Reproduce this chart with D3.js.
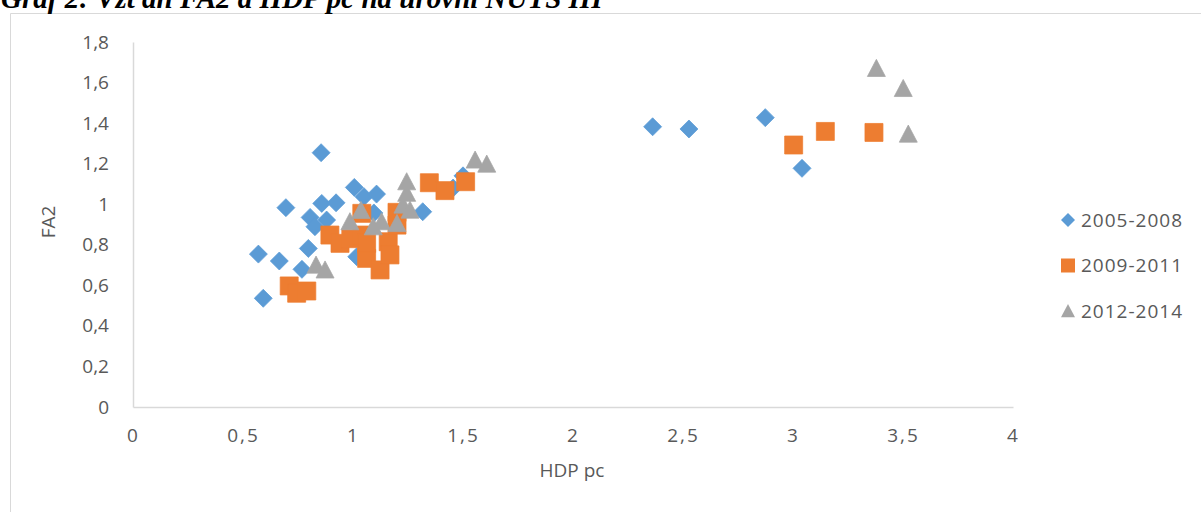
<!DOCTYPE html>
<html>
<head>
<meta charset="utf-8">
<script src="https://cdn.jsdelivr.net/npm/d3@7"></script>
<style>
body { margin: 0; background: #fff; }
svg { display: block; }
</style>
</head>
<body>
<div id="display"><svg width="1201" height="512"></svg></div>
<script>
// series and values
var seriesNames = ["2005-2008", "2009-2011", "2012-2014"];
var seriesColors = ["#5b9bd5", "#ed7d31", "#a5a5a5"];
var seriesShapes = ["diamond", "square", "triangle"];

var hdp0508 = [0.57, 0.592, 0.665, 0.695, 0.768, 0.797, 0.805, 0.827, 0.855, 0.858, 0.88, 0.923,
	1.006, 1.017, 1.05, 1.095, 1.107, 1.317, 1.455, 1.5, 2.362, 2.527, 2.874, 3.041];
var fa20508 = [0.754, 0.536, 0.72, 0.983, 0.679, 0.782, 0.935, 0.889, 1.254, 1.004, 0.922, 1.007,
	1.083, 0.741, 1.037, 0.957, 1.05, 0.963, 1.08, 1.14, 1.382, 1.371, 1.427, 1.177];

var hdp0911 = [0.71, 0.744, 0.79, 0.895, 0.941, 0.99, 1.04, 1.04, 1.062, 1.062, 1.123, 1.16,
	1.168, 1.2, 1.2, 1.347, 1.418, 1.512, 3.003, 3.147, 3.368];
var fa20911 = [0.597, 0.561, 0.572, 0.848, 0.807, 0.83, 0.848, 0.955, 0.733, 0.807, 0.676, 0.815,
	0.75, 0.897, 0.96, 1.106, 1.067, 1.111, 1.292, 1.359, 1.354];

var hdp1214 = [0.832, 0.873, 0.986, 1.036, 1.092, 1.13, 1.2, 1.227, 1.244, 1.244, 1.259,
	1.555, 1.608, 3.379, 3.501, 3.524];
var fa21214 = [0.70, 0.676, 0.914, 0.97, 0.889, 0.914, 0.905, 0.996, 1.054, 1.111, 0.971,
	1.218, 1.198, 1.67, 1.571, 1.346];

var xTicks = [0, 0.5, 1, 1.5, 2, 2.5, 3, 3.5, 4];
var yTicks = [0, 0.2, 0.4, 0.6, 0.8, 1, 1.2, 1.4, 1.6, 1.8];

var title = "Graf 2: Vzťah FA2 a HDP pc na úrovni NUTS III";
var xTitle = "HDP pc";
var yTitle = "FA2";

var hdpAll = [hdp0508, hdp0911, hdp1214];
var fa2All = [fa20508, fa20911, fa21214];

function comma(v) { return String(v).replace(".", ","); }

// marker path centred on 0,0; r is half the width
function marker(shape, r) {
    if (shape == "diamond")
	return "M0," + (-r) + "L" + r + ",0L0," + r + "L" + (-r) + ",0Z";
    if (shape == "square")
	return "M" + (-r) + "," + (-r) + "H" + r + "V" + r + "H" + (-r) + "Z";
    return "M0," + (-r) + "L" + r + "," + r * 0.9 + "L" + (-r) + "," + r * 0.9 + "Z";
}

var canvas = d3.select("#display svg");
var font = "'Open Sans', 'DejaVu Sans', sans-serif";
var grey = "#595959";

// frame of the embedded chart
canvas.append("path")
    .attr("d", "M10.5,512V13.5H1201")
    .style("fill", "none")
    .style("stroke", "#d9d9d9");

// the page title is clipped by the top edge, as in the scan
canvas.append("text")
    .attr("x", 1)
    .attr("y", 8)
    .style("font-family", "'Liberation Serif', 'Times New Roman', serif")
    .style("font-weight", "bold")
    .style("font-style", "italic")
    .style("font-size", "29px")
    .text(title);

var x = d3.scaleLinear().domain([0, 4]).range([133, 1013]);
var y = d3.scaleLinear().domain([0, 1.8]).range([407, 42]);

var xAxis = canvas.append("g")
    .attr("transform", "translate(0," + y(0) + ")")
    .call(d3.axisBottom(x).tickValues(xTicks).tickSize(0).tickPadding(22).tickFormat(comma));
var yAxis = canvas.append("g")
    .attr("transform", "translate(" + x(0) + ",0)")
    .call(d3.axisLeft(y).tickValues(yTicks).tickSize(0).tickPadding(24).tickFormat(comma));

canvas.selectAll(".domain").style("stroke", "#d9d9d9").style("stroke-width", 1.5);
canvas.selectAll(".tick text")
    .style("font-family", font)
    .style("font-size", "19px")
    .style("fill", grey);
xAxis.selectAll(".tick text").style("letter-spacing", "2px");

canvas.append("text")
    .attr("x", 572)
    .attr("y", 477)
    .attr("text-anchor", "middle")
    .style("font-family", font)
    .style("font-size", "19px")
    .style("fill", grey)
    .text(xTitle);

canvas.append("text")
    .attr("transform", "translate(55,222) rotate(-90)")
    .attr("text-anchor", "middle")
    .style("font-family", font)
    .style("font-size", "19px")
    .style("fill", grey)
    .text(yTitle);

seriesNames.forEach(function (name, i) {
    var pts = hdpAll[i].map(function (v, j) { return [v, fa2All[i][j]]; });
    canvas.append("g").selectAll("path")
	.data(pts)
	.enter().append("path")
	.attr("transform", function (d) { return "translate(" + x(d[0]) + "," + y(d[1]) + ")"; })
	.attr("d", marker(seriesShapes[i], 9))
	.style("fill", seriesColors[i])
	.style("stroke", seriesColors[i])
	.style("stroke-width", 0.75);

    var ly = 220 + i * 45.5;
    canvas.append("path")
	.attr("transform", "translate(1068," + ly + ")")
	.attr("d", marker(seriesShapes[i], 7))
	.style("fill", seriesColors[i]);
    canvas.append("text")
	.attr("x", 1081)
	.attr("y", ly)
	.attr("dy", "0.35em")
	.style("font-family", font)
	.style("font-size", "19px")
	.style("letter-spacing", "1px")
	.style("fill", grey)
	.text(name);
});
</script>
</body>
</html>
